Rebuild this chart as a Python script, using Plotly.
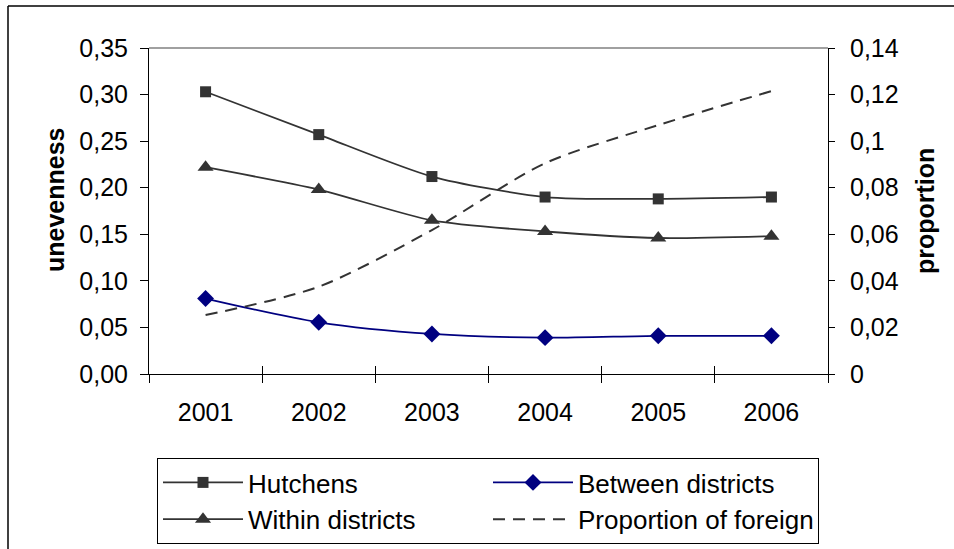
import plotly.graph_objects as go

years = ["2001", "2002", "2003", "2004", "2005", "2006"]
hutchens = [0.303, 0.257, 0.212, 0.190, 0.188, 0.190]
within = [0.222, 0.198, 0.165, 0.153, 0.146, 0.148]
between = [0.081, 0.0555, 0.043, 0.039, 0.041, 0.041]
proportion = [0.0253, 0.0375, 0.0618, 0.0905, 0.1069, 0.1215]

left_ticks = [0, 0.05, 0.10, 0.15, 0.20, 0.25, 0.30, 0.35]
left_text = ["0,00", "0,05", "0,10", "0,15", "0,20", "0,25", "0,30", "0,35"]
right_ticks = [0, 0.02, 0.04, 0.06, 0.08, 0.10, 0.12, 0.14]
right_text = ["0", "0,02", "0,04", "0,06", "0,08", "0,1", "0,12", "0,14"]

FONT = "Liberation Sans, Arial, sans-serif"
DARK = "#333333"
NAVY = "#000080"

W, H = 954, 549
L, R, T, B = 149, 126, 48, 175
PW, PH = W - L - R, H - T - B

def px_x(x):
    return (x - L) / PW

def px_y(y):
    return (H - B - y) / PH

fig = go.Figure()
fig.add_trace(go.Scatter(
    x=years, y=hutchens, name="Hutchens", mode="lines+markers",
    line=dict(color=DARK, width=1.8, shape="spline", smoothing=0.7),
    marker=dict(symbol="square", size=11, color=DARK),
))
fig.add_trace(go.Scatter(
    x=years, y=between, name="Between districts", mode="lines+markers",
    line=dict(color=NAVY, width=1.8, shape="spline", smoothing=0.8),
    marker=dict(symbol="diamond", size=13, color=NAVY),
))
fig.add_trace(go.Scatter(
    x=years, y=within, name="Within districts", mode="lines+markers",
    line=dict(color=DARK, width=1.8, shape="spline", smoothing=0.7),
    marker=dict(symbol="triangle-up", size=14, color=DARK),
))
fig.add_trace(go.Scatter(
    x=years, y=proportion, name="Proportion of foreign", mode="lines",
    line=dict(color=DARK, width=2, dash="12px,8px", shape="spline", smoothing=0.8),
    xaxis="x2", yaxis="y2",
))

tickfont = dict(family=FONT, size=25, color="black")
xcommon = dict(type="category", categoryarray=years, categoryorder="array",
               range=[-0.5, 5.5], tickson="boundaries", ticklen=8,
               tickcolor="black", tickwidth=1)

fig.update_layout(
    width=W, height=H,
    margin=dict(l=L, r=R, t=T, b=B, autoexpand=False),
    paper_bgcolor="white", plot_bgcolor="white",
    separators=",.",
    font=dict(family=FONT, size=25, color="black"),
    showlegend=True,
    xaxis=dict(**xcommon, ticks="outside", showline=True, linecolor="black",
               linewidth=1, showgrid=False, zeroline=False,
               tickfont=tickfont, ticklabelstandoff=16),
    xaxis2=dict(**xcommon, ticks="inside", overlaying="x", anchor="y2",
                showline=False, showgrid=False, zeroline=False,
                showticklabels=False),
    yaxis=dict(range=[0, 0.35], tickvals=left_ticks, ticktext=left_text,
               ticks="outside", ticklen=8, tickcolor="black",
               showline=True, linecolor="black", linewidth=1,
               showgrid=False, zeroline=False, tickfont=tickfont,
               ticklabelstandoff=7),
    yaxis3=dict(range=[0, 0.35], tickvals=left_ticks, ticks="inside",
                ticklen=8, tickcolor="black", overlaying="y", anchor="x",
                showticklabels=False, showline=False, showgrid=False,
                zeroline=False),
    yaxis2=dict(range=[0, 0.14], tickvals=right_ticks, ticktext=right_text,
                side="right", overlaying="y", anchor="x2",
                ticks="outside", ticklen=6, tickcolor="black",
                showline=True, linecolor="black", linewidth=1,
                showgrid=False, zeroline=False, tickfont=tickfont,
                ticklabelstandoff=10),
    yaxis4=dict(range=[0, 0.14], tickvals=right_ticks, ticks="inside",
                ticklen=8, tickcolor="black", overlaying="y", anchor="x",
                side="right", showticklabels=False, showline=False,
                showgrid=False, zeroline=False),
    legend=dict(
        orientation="h", x=px_x(157), y=px_y(458), xanchor="left", yanchor="top",
        entrywidth=235, entrywidthmode="pixels", itemwidth=80,
        bgcolor="white", bordercolor="black", borderwidth=1,
        font=dict(family=FONT, size=26, color="black"),
        traceorder="normal",
    ),
    shapes=[
        dict(type="line", xref="paper", yref="paper", x0=0, x1=1, y0=1, y1=1,
             line=dict(color="#808080", width=1.5)),
        dict(type="line", xref="paper", yref="paper", x0=px_x(8), x1=px_x(8),
             y0=px_y(6), y1=px_y(560), line=dict(color="black", width=1.5)),
        dict(type="line", xref="paper", yref="paper", x0=px_x(8), x1=px_x(970),
             y0=px_y(6), y1=px_y(6), line=dict(color="black", width=1.5)),
    ],
    annotations=[
        dict(text="<b>unevenness</b>", xref="paper", yref="paper",
             x=px_x(55), y=px_y(200), textangle=-90, showarrow=False,
             font=dict(family=FONT, size=25, color="black"),
             xanchor="center", yanchor="middle"),
        dict(text="<b>proportion</b>", xref="paper", yref="paper",
             x=px_x(925), y=px_y(211), textangle=-90, showarrow=False,
             font=dict(family=FONT, size=25, color="black"),
             xanchor="center", yanchor="middle"),
    ],
)

fig.write_html("out.html",
               config={"displayModeBar": False},
               post_script="document.body.style.margin='0';document.body.style.overflow='hidden';")
